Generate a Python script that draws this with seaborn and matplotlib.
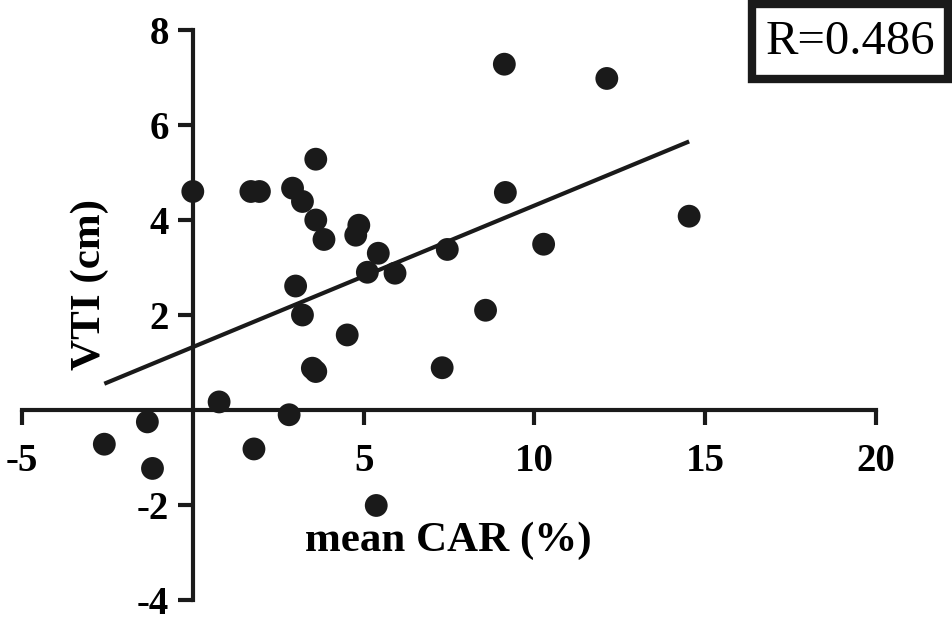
import matplotlib
matplotlib.use("Agg")
import matplotlib.pyplot as plt
import matplotlib.patches as mpatches
import seaborn as sns
import pandas as pd

# data
mean_car = [0.0, 1.7, 1.95, 2.92, 3.21, 3.6, 3.6, 3.84, 4.86, 4.77, 5.43, 5.11,
            5.92, 7.45, 3.01, 3.21, 4.52, 3.5, 3.6, 7.3, 0.77, 2.82, -1.33,
            -2.59, -1.18, 1.79, 5.37, 8.57, 9.12, 12.12, 9.15, 10.27, 14.53]
vti = [4.6, 4.6, 4.6, 4.67, 4.39, 5.28, 4.0, 3.59, 3.89, 3.68, 3.30, 2.90,
       2.88, 3.38, 2.61, 2.0, 1.58, 0.88, 0.81, 0.89, 0.17, -0.1, -0.25,
       -0.72, -1.23, -0.82, -2.01, 2.1, 7.28, 6.98, 4.58, 3.49, 4.08]
x_ticks = [-5, 5, 10, 15, 20]
y_ticks = [-4, -2, 2, 4, 6, 8]
r_text = "R=0.486"

df = pd.DataFrame({"mean CAR (%)": mean_car, "VTI (cm)": vti})

sns.set_style("white")
plt.rcParams["font.family"] = ["Liberation Serif", "DejaVu Serif"]

W, H = 953, 621
fig = plt.figure(figsize=(W / 100, H / 100), dpi=100)
ax = fig.add_axes([22 / W, (H - 600) / H, 854 / W, 570 / H])

ink = "#1a1a1a"
sns.regplot(data=df, x="mean CAR (%)", y="VTI (cm)", ax=ax, ci=None, truncate=True,
            scatter_kws=dict(s=270, color=ink, edgecolor="none", alpha=1, clip_on=False, zorder=3),
            line_kws=dict(color=ink, lw=3.0, solid_capstyle="butt"))

ax.set_xlim(-5, 20)
ax.set_ylim(-4, 8)
ax.set_xlabel("")
ax.set_ylabel("")

for side in ["top", "right"]:
    ax.spines[side].set_visible(False)
ax.spines["left"].set_position(("data", 0))
ax.spines["bottom"].set_position(("data", 0))
for side in ["left", "bottom"]:
    ax.spines[side].set_linewidth(3.0)
    ax.spines[side].set_color(ink)
    ax.spines[side].set_capstyle("projecting")

ax.set_xticks(x_ticks)
ax.set_yticks(y_ticks)
ax.set_xticklabels([str(t) for t in x_ticks])
ax.set_yticklabels([str(t) for t in y_ticks])
ax.tick_params(axis="both", which="major", direction="out", length=11, width=3.0, color=ink,
               labelsize=28, labelcolor="black", bottom=True, left=True)
ax.tick_params(axis="x", pad=13)
ax.tick_params(axis="y", pad=6)
for lab in ax.get_xticklabels() + ax.get_yticklabels():
    lab.set_fontweight("bold")

ax.text((448 - 22) / 854, (600 - 541) / 570, "mean CAR (%)", transform=ax.transAxes,
        ha="center", va="center", fontsize=31, fontweight="bold", color="black")
ax.text((90 - 22) / 854, (600 - 285) / 570, "VTI (cm)", transform=ax.transAxes,
        ha="center", va="center", rotation=90, fontsize=31, fontweight="bold", color="black")

# R box
x0, x1, y0, y1 = 752, 948, 4, 79
rect = mpatches.Rectangle((x0 / W, 1 - y1 / H), (x1 - x0) / W, (y1 - y0) / H,
                          transform=fig.transFigure, fill=False, lw=6, edgecolor=ink)
fig.add_artist(rect)
fig.text((x0 + x1) / 2 / W, 1 - 42 / H, r_text, ha="center", va="center",
         fontsize=35, color="black")

fig.savefig("out.png", dpi=100)
